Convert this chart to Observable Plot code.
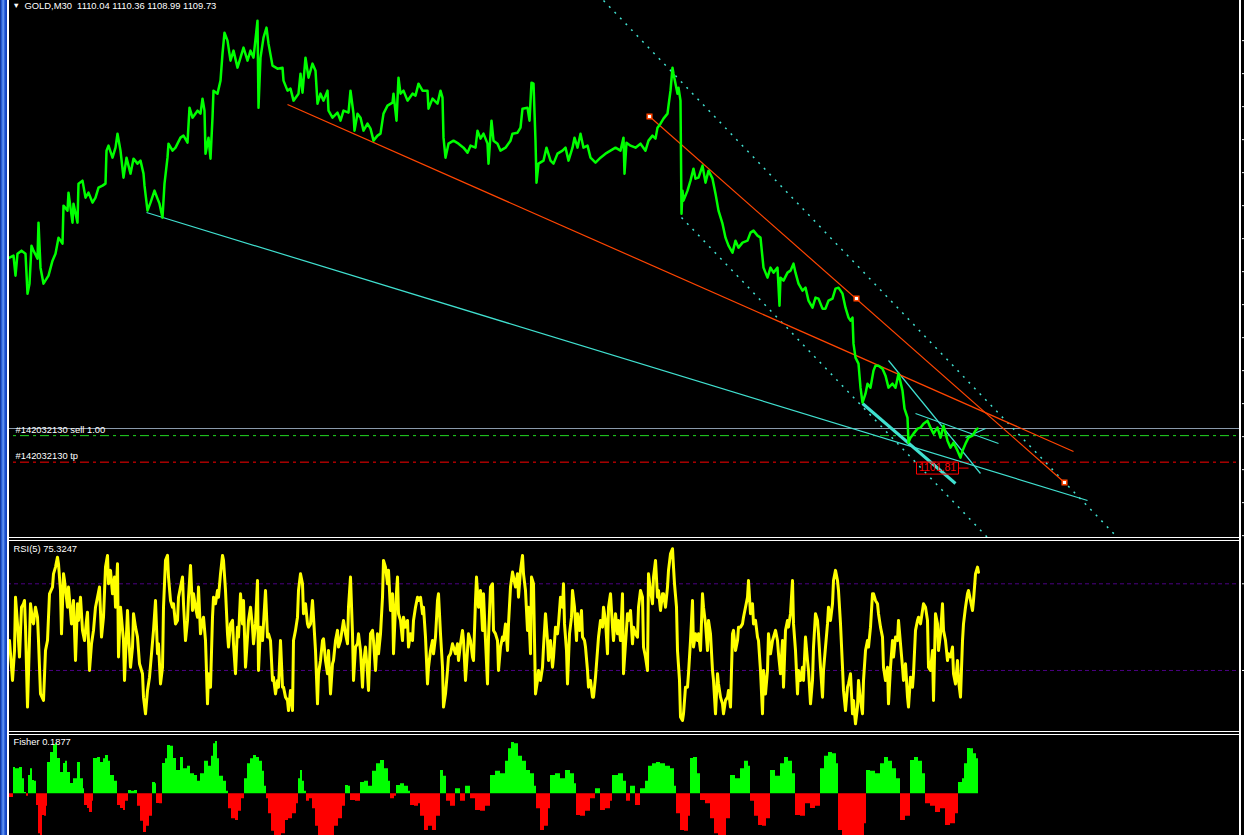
<!DOCTYPE html>
<html><head><meta charset="utf-8">
<script src="https://cdn.jsdelivr.net/npm/d3@7"></script>
<script src="https://cdn.jsdelivr.net/npm/@observablehq/plot@0.6"></script>
<style>
html,body{margin:0;padding:0;background:#000;}
#wrap{position:relative;width:1244px;height:835px;overflow:hidden;background:#000;}
.pane{position:absolute;left:0;}
.chrome{position:absolute;}
</style></head><body><div id="wrap"></div>
<script>
// ---------------- DATA ----------------
const titleText = "GOLD,M30  1110.04 1110.36 1108.99 1109.73";
const rsiLabel = "RSI(5) 75.3247";
const fisherLabel = "Fisher 0.1877";
const orderSellLabel = "#142032130 sell 1.00";
const orderTpLabel = "#142032130 tp";
const bidPrice = 1109.73;
const sellPrice = 1108.30;
const tpPrice = 1103.00;
const priceTicks = [1187.3,1180.7,1174.1,1167.5,1160.9,1154.3,1147.7,1141.1,1134.5,1127.9,1121.3,1114.7,1108.1,1101.5,1094.9,1088.3];
const rsiLevels = [70, 30];

// [bar, price]
const priceSeries = [[9,1143.9],[13,1144.3],[15,1140.3],[17,1144.7],[21,1145.3],[25,1144.7],[27,1136.7],[29,1138.7],[31,1146.3],[33,1145.3],[37,1143.7],[38,1150.9],[40,1141.9],[43,1138.7],[48,1140.3],[52,1143.3],[55,1144.7],[58,1147.9],[62,1146.7],[63,1154.3],[67,1153.3],[68,1156.9],[72,1150.9],[73,1154.7],[77,1150.9],[78,1158.7],[82,1159.3],[85,1155.9],[88,1156.9],[92,1154.9],[95,1155.9],[98,1157.9],[102,1158.3],[105,1158.7],[106,1165.3],[108,1166.3],[112,1163.9],[115,1165.9],[117,1168.7],[120,1165.3],[123,1159.9],[126,1163.9],[130,1160.7],[133,1163.7],[137,1162.7],[140,1163.3],[143,1160.7],[144,1158.3],[147,1153.3],[150,1154.9],[154,1157.3],[157,1155.7],[159,1154.7],[162,1151.9],[164,1158.7],[167,1163.9],[168,1166.7],[172,1165.3],[175,1165.9],[180,1167.9],[183,1168.3],[187,1166.9],[189,1173.9],[192,1171.9],[197,1173.3],[200,1172.7],[202,1175.7],[204,1173.3],[205,1164.7],[208,1167.9],[210,1163.7],[212,1171.9],[213,1177.3],[217,1176.7],[220,1179.3],[222,1184.7],[224,1188.9],[227,1187.3],[230,1183.3],[233,1185.3],[237,1181.9],[240,1183.9],[243,1185.9],[247,1183.3],[250,1185.3],[253,1183.9],[257,1191.3],[258,1173.9],[260,1183.9],[263,1187.9],[266,1189.9],[268,1186.7],[272,1182.3],[277,1181.7],[282,1181.9],[283,1179.3],[287,1177.3],[290,1177.7],[293,1175.3],[298,1176.7],[300,1180.7],[302,1176.9],[305,1183.9],[308,1179.9],[312,1182.7],[315,1181.3],[317,1174.7],[320,1176.7],[323,1175.3],[327,1177.3],[328,1173.3],[332,1171.9],[337,1172.9],[340,1171.3],[343,1173.3],[348,1172.9],[350,1177.3],[353,1172.7],[354,1169.3],[357,1172.7],[360,1171.9],[363,1169.3],[367,1170.7],[370,1169.7],[373,1167.3],[377,1168.3],[380,1168.7],[383,1172.7],[387,1174.3],[392,1174.9],[393,1176.7],[396,1171.3],[398,1179.9],[400,1176.7],[403,1177.3],[407,1175.3],[412,1176.7],[415,1176.3],[418,1178.7],[422,1177.3],[427,1177.3],[428,1173.7],[432,1175.7],[437,1174.7],[440,1177.3],[442,1175.9],[443,1167.9],[445,1163.9],[448,1166.7],[453,1167.3],[458,1166.7],[463,1165.9],[467,1164.9],[470,1166.3],[475,1165.9],[477,1169.3],[480,1167.7],[483,1168.7],[487,1166.7],[488,1162.7],[491,1171.3],[493,1167.3],[497,1166.7],[500,1165.3],[505,1165.9],[510,1167.3],[512,1168.7],[517,1168.9],[520,1169.9],[522,1173.7],[527,1173.9],[529,1171.3],[531,1178.9],[533,1178.7],[535,1167.3],[536,1158.9],[538,1162.7],[543,1163.3],[546,1165.9],[550,1163.3],[553,1162.7],[557,1164.7],[562,1165.3],[565,1165.9],[568,1163.3],[572,1165.9],[574,1167.9],[577,1165.9],[580,1168.7],[583,1165.9],[587,1166.3],[590,1163.9],[595,1162.9],[600,1163.9],[605,1164.7],[610,1165.3],[615,1165.9],[620,1165.3],[623,1167.9],[624,1160.7],[626,1166.9],[630,1166.3],[635,1165.9],[640,1166.7],[645,1165.3],[648,1167.3],[652,1168.3],[655,1167.7],[657,1169.9],[660,1170.7],[663,1171.7],[667,1172.7],[668,1174.3],[670,1177.3],[672,1181.9],[673,1180.7],[675,1178.7],[677,1176.7],[678,1177.9],[680,1175.3],[681,1152.7],[682,1157.3],[683,1155.3],[687,1157.3],[690,1159.3],[693,1161.7],[695,1159.7],[698,1159.9],[702,1162.3],[705,1158.9],[708,1161.3],[712,1159.7],[715,1156.7],[718,1153.3],[722,1150.7],[725,1147.9],[728,1146.3],[732,1144.9],[735,1147.3],[738,1145.9],[742,1146.9],[747,1147.3],[750,1148.9],[753,1149.3],[757,1148.3],[760,1147.9],[762,1143.9],[763,1141.9],[767,1139.9],[770,1141.9],[773,1140.9],[777,1141.9],[779,1134.3],[780,1139.9],[783,1139.3],[787,1140.9],[790,1141.3],[793,1142.7],[795,1140.9],[798,1138.7],[802,1137.3],[805,1137.9],[808,1135.3],[812,1133.9],[815,1135.9],[818,1135.7],[822,1133.7],[825,1133.7],[828,1135.3],[832,1135.7],[835,1137.7],[838,1137.9],[842,1136.7],[845,1133.9],[848,1131.9],[850,1131.3],[852,1131.9],[853,1126.7],[855,1123.9],[858,1122.7],[860,1117.9],[862,1114.9],[865,1116.7],[867,1118.7],[870,1117.9],[873,1121.3],[875,1122.3],[878,1122.3],[882,1121.7],[885,1120.3],[888,1117.9],[892,1118.7],[895,1117.9],[898,1120.7],[902,1117.3],[904,1113.7],[907,1111.9],[908,1106.9],[910,1107.9],[913,1108.7],[917,1109.7],[920,1109.9],[923,1110.7],[927,1111.3],[930,1109.9],[933,1108.7],[937,1109.9],[940,1107.9],[943,1110.3],[947,1107.3],[950,1105.9],[953,1106.9],[957,1105.3],[960,1103.9],[962,1105.3],[965,1106.7],[968,1107.9],[972,1108.3],[975,1109.3],[977,1109.73]];

// [bar, RSI]
const rsiSeries = [[9,43.8],[12,25.4],[14,39.2],[15,63.8],[17,51.5],[19,36.2],[21,59.2],[23,60.8],[24,62.3],[25,50.0],[27,13.1],[28,28.5],[30,60.8],[32,53.1],[33,51.5],[35,59.2],[37,54.6],[38,43.8],[40,19.2],[43,16.2],[45,39.2],[47,43.8],[49,65.4],[52,68.5],[53,74.6],[55,77.7],[57,82.3],[58,79.2],[60,66.9],[61,46.9],[63,74.6],[64,71.5],[67,59.2],[68,68.5],[71,51.5],[73,62.3],[75,34.6],[77,60.8],[78,53.1],[80,63.8],[82,48.5],[84,43.8],[86,53.1],[87,56.9],[89,30.0],[91,42.3],[93,48.5],[95,59.2],[97,63.8],[99,68.5],[101,45.4],[103,54.6],[105,77.7],[107,83.1],[108,70.0],[110,76.2],[112,65.4],[114,73.1],[115,59.2],[117,79.2],[118,36.2],[120,59.2],[123,43.8],[124,25.4],[127,57.7],[128,46.9],[130,31.5],[132,40.8],[133,56.2],[135,50.0],[137,45.4],[139,33.1],[142,28.5],[143,17.7],[145,10.0],[147,20.8],[149,26.9],[151,37.7],[153,48.5],[155,62.3],[157,37.7],[158,42.3],[160,23.8],[162,31.5],[163,59.2],[165,80.8],[167,83.1],[168,73.1],[170,62.3],[172,59.2],[173,60.8],[175,51.5],[177,53.1],[178,63.8],[180,68.5],[182,73.1],[183,60.8],[185,43.8],[187,53.1],[188,63.8],[190,78.5],[192,57.7],[193,65.4],[195,59.2],[197,54.6],[198,68.5],[200,46.9],[202,53.1],[203,54.6],[205,43.8],[207,14.6],[208,28.5],[210,22.3],[212,54.6],[213,63.8],[215,60.8],[217,66.9],[218,63.8],[220,74.6],[222,83.1],[223,80.8],[225,66.9],[227,46.9],[228,40.8],[230,51.5],[232,53.1],[233,42.3],[235,28.5],[237,50.0],[238,45.4],[240,65.4],[242,51.5],[243,62.3],[245,31.5],[247,45.4],[248,53.1],[250,59.2],[252,50.0],[253,42.3],[255,51.5],[257,71.5],[258,30.0],[260,50.0],[262,43.8],[263,51.5],[265,66.9],[267,45.4],[268,46.9],[270,43.8],[272,25.4],[273,26.9],[275,19.2],[277,25.4],[278,22.3],[280,43.8],[282,22.3],[283,22.3],[285,17.7],[287,16.2],[288,11.5],[290,20.8],[292,11.5],[293,43.8],[295,48.5],[297,54.6],[298,66.9],[300,74.6],[302,70.0],[303,56.2],[305,60.8],[307,51.5],[308,50.0],[310,51.5],[312,62.3],[313,54.6],[315,39.2],[317,14.6],[318,28.5],[320,34.6],[322,43.8],[323,44.6],[325,34.6],[327,28.5],[328,39.2],[330,19.2],[332,33.1],[333,34.6],[335,43.8],[337,48.5],[338,40.8],[340,43.8],[342,50.0],[343,53.1],[345,46.9],[347,42.3],[348,59.2],[350,73.1],[352,46.9],[353,25.4],[355,40.8],[357,42.3],[358,46.9],[360,39.2],[362,22.3],[363,33.1],[365,40.8],[367,28.5],[368,20.8],[370,46.9],[372,48.5],[373,43.8],[375,30.0],[377,46.9],[378,37.7],[380,46.9],[382,63.8],[383,80.8],[385,77.7],[387,70.0],[388,76.2],[390,57.7],[392,65.4],[393,37.7],[395,59.2],[397,73.1],[398,56.2],[400,53.1],[402,43.8],[403,54.6],[405,50.0],[407,53.1],[408,40.8],[410,46.9],[412,43.8],[413,53.1],[415,59.2],[417,63.8],[418,62.3],[420,63.8],[422,56.2],[423,59.2],[425,45.4],[427,23.8],[428,31.5],[430,39.2],[432,43.8],[433,37.7],[435,45.4],[437,62.3],[438,65.4],[440,46.9],[442,31.5],[443,13.1],[445,19.2],[447,30.0],[448,36.2],[450,37.7],[452,42.3],[453,40.8],[455,37.7],[457,42.3],[458,34.6],[460,42.3],[462,48.5],[463,43.8],[465,25.4],[467,39.2],[468,46.9],[470,43.8],[472,36.2],[473,34.6],[475,62.3],[476,73.1],[478,59.2],[480,66.9],[482,48.5],[483,65.4],[485,43.8],[487,23.8],[488,45.4],[490,68.5],[492,70.0],[493,48.5],[495,46.9],[497,43.8],[498,30.0],[500,40.8],[502,45.4],[503,43.8],[505,51.5],[507,39.2],[508,51.5],[510,68.5],[512,75.4],[513,73.1],[515,68.5],[517,74.6],[518,63.8],[520,76.2],[522,83.1],[523,74.6],[525,66.9],[527,48.5],[528,59.2],[530,37.7],[531,73.1],[533,70.0],[534,43.8],[535,19.2],[537,25.4],[538,30.0],[540,25.4],[542,31.5],[543,40.8],[545,56.2],[547,43.8],[548,34.6],[550,43.8],[552,31.5],[553,36.2],[555,50.0],[557,46.9],[558,51.5],[560,63.8],[562,59.2],[563,70.0],[564,51.5],[566,39.2],[567,23.8],[569,46.9],[571,54.6],[572,66.9],[574,59.2],[576,43.8],[577,56.2],[579,48.5],[581,57.7],[582,45.4],[584,43.8],[585,40.8],[587,30.0],[588,22.3],[590,25.4],[592,17.7],[593,17.7],[595,26.9],[597,39.2],[598,45.4],[600,53.1],[602,50.0],[603,59.2],[605,53.1],[607,37.7],[608,59.2],[610,65.4],[612,50.0],[613,43.8],[615,56.2],[617,46.9],[618,53.1],[620,43.8],[622,65.4],[623,28.5],[625,42.3],[627,56.2],[628,53.1],[630,57.7],[632,42.3],[633,50.0],[635,46.9],[637,45.4],[638,59.2],[640,66.9],[642,63.8],[643,40.8],[645,36.2],[647,30.0],[648,74.6],[650,66.9],[652,60.8],[653,73.1],[655,80.8],[657,63.8],[658,66.9],[660,57.7],[662,65.4],[663,65.4],[665,59.2],[667,68.5],[668,76.2],[670,83.8],[672,86.2],[673,77.7],[674,70.0],[676,59.2],[677,39.2],[679,25.4],[680,8.5],[682,6.9],[683,10.0],[685,22.3],[687,22.3],[688,28.5],[690,43.8],[692,62.3],[693,40.8],[695,46.9],[697,43.8],[698,46.9],[700,39.2],[702,65.4],[703,59.2],[705,51.5],[707,39.2],[708,53.1],[710,46.9],[712,30.0],[713,25.4],[715,10.0],[717,28.5],[718,23.8],[720,17.7],[722,14.6],[723,10.0],[725,16.2],[727,17.7],[728,20.8],[730,13.1],[732,46.9],[733,48.5],[735,39.2],[737,43.8],[738,50.0],[740,50.0],[742,51.5],[743,54.6],[745,59.2],[747,63.8],[748,71.5],[750,56.2],[752,60.8],[753,51.5],[755,53.1],[757,45.4],[758,43.8],[760,30.0],[762,10.0],[763,30.0],[765,19.2],[767,30.0],[768,46.9],[770,37.7],[772,43.8],[773,45.4],[775,48.5],[777,43.8],[778,37.7],[780,28.5],[782,43.8],[783,22.3],[785,48.5],[787,53.1],[788,50.0],[790,56.2],[792,71.5],[793,51.5],[795,39.2],[797,19.2],[798,30.0],[800,25.4],[802,31.5],[803,25.4],[805,45.4],[807,34.6],[808,30.0],[810,14.6],[812,25.4],[813,40.8],[815,56.2],[817,53.1],[818,46.9],[820,31.5],[822,17.7],[823,30.0],[825,40.8],[827,51.5],[828,59.2],[830,53.1],[832,60.8],[833,71.5],[835,76.2],[837,71.5],[838,66.9],[840,51.5],[842,31.5],[843,20.8],[845,11.5],[847,22.3],[848,23.8],[850,28.5],[852,10.0],[853,16.2],[855,5.4],[857,13.1],[858,25.4],[860,16.2],[862,10.0],[863,25.4],[865,39.2],[867,43.8],[868,40.8],[870,50.0],[872,65.4],[873,65.4],[875,62.3],[877,60.8],[878,56.2],[880,50.0],[882,45.4],[883,31.5],[885,25.4],[887,31.5],[888,14.6],[890,31.5],[892,43.8],[893,36.2],[895,45.4],[897,43.8],[898,53.1],[900,42.3],[902,31.5],[903,25.4],[905,33.1],[907,17.7],[908,13.1],[910,26.9],[912,22.3],[913,28.5],[915,48.5],[917,53.1],[918,54.6],[920,51.5],[922,57.7],[923,60.8],[925,59.2],[927,53.1],[928,31.5],[930,30.0],[932,39.2],[933,16.2],[935,56.2],[937,51.5],[938,39.2],[940,46.9],[942,60.8],[943,48.5],[945,43.8],[947,34.6],[948,37.7],[950,36.2],[952,40.8],[953,28.5],[955,23.8],[957,34.6],[958,25.4],[960,17.7],[962,43.8],[963,51.5],[965,59.2],[967,65.4],[968,66.9],[970,62.3],[972,57.7],[973,62.3],[975,74.6],[977,77.7],[978,75.3]];

// [bar, Fisher]
const fisherSeries = [[9,-0.15],[12,-0.15],[13,1.05],[15,1.0],[19,1.05],[21,1.05],[22,0.6],[24,0.05],[26,-0.1],[28,0.73],[30,1.0],[32,0.53],[34,0.5],[36,-0.47],[38,-1.6],[40,-2.2],[42,-0.87],[44,-0.9],[46,-0.5],[47,1.25],[50,1.65],[53,1.93],[55,2.0],[57,1.41],[60,0.85],[63,1.21],[65,1.3],[67,0.85],[70,0.41],[73,0.6],[77,1.25],[80,0.6],[83,0.2],[84,-0.47],[87,-0.59],[89,-0.75],[92,-0.3],[93,1.41],[97,1.45],[100,1.25],[103,1.4],[105,1.53],[108,1.3],[110,0.73],[114,0.5],[117,-0.47],[120,-0.59],[123,-0.67],[125,-0.3],[128,0.13],[131,0.1],[134,0.13],[137,-0.5],[140,-1.1],[143,-1.55],[146,-1.3],[149,-0.9],[152,0.45],[155,0.4],[156,-0.39],[159,-0.4],[162,1.21],[165,1.4],[167,1.93],[170,1.9],[173,1.41],[176,0.93],[180,1.45],[183,1.0],[187,1.1],[190,0.8],[194,0.73],[197,0.5],[200,0.8],[204,1.3],[208,1.1],[211,1.5],[213,2.0],[215,2.09],[217,1.4],[219,0.7],[223,0.5],[226,0.1],[228,-0.6],[231,-1.0],[235,-1.07],[238,-0.7],[241,-0.2],[244,0.6],[247,1.2],[250,1.4],[253,1.53],[256,1.45],[259,1.3],[262,0.9],[264,0.3],[266,-0.2],[268,-0.8],[271,-1.5],[274,-2.2],[278,-2.2],[281,-1.6],[285,-1.07],[288,-1.0],[292,-0.8],[296,-0.4],[298,0.6],[300,0.93],[302,0.5],[304,0.1],[306,-0.3],[309,-0.2],[312,-0.6],[315,-1.3],[318,-2.2],[322,-2.2],[326,-1.9],[330,-1.7],[334,-1.3],[338,-1.0],[342,-0.5],[345,0.33],[348,0.3],[350,-0.27],[355,-0.3],[360,0.45],[364,0.5],[368,0.3],[372,0.9],[376,1.2],[380,1.33],[384,1.0],[388,0.5],[390,-0.2],[394,-0.1],[396,0.33],[400,0.4],[404,0.3],[408,0.1],[410,-0.47],[414,-0.5],[418,-0.4],[420,-0.9],[424,-1.47],[428,-1.3],[432,-1.47],[436,-0.9],[440,0.93],[443,0.7],[446,-0.3],[450,-0.5],[455,0.2],[460,-0.3],[465,0.3],[470,-0.2],[475,-0.67],[480,-0.7],[485,-0.5],[490,0.73],[495,0.9],[500,0.8],[505,1.3],[508,1.8],[511,2.05],[514,2.0],[518,1.5],[522,1.3],[526,0.93],[530,0.8],[534,0.3],[536,-0.6],[540,-1.47],[544,-1.3],[548,-0.6],[550,0.73],[555,0.8],[560,0.6],[565,0.93],[570,0.8],[574,0.4],[576,-0.87],[580,-0.9],[585,-0.7],[590,-0.2],[595,0.2],[600,-0.67],[605,-0.6],[610,-0.3],[612,0.73],[618,0.8],[623,0.5],[626,-0.3],[630,0.3],[635,-0.47],[640,0.2],[645,0.5],[648,1.1],[652,1.2],[656,1.25],[660,1.2],[665,1.1],[670,1.0],[674,0.3],[676,-0.8],[680,-1.47],[684,-1.5],[688,-0.9],[690,1.41],[693,1.45],[697,0.8],[700,-0.27],[705,-0.4],[710,-1.0],[714,-1.6],[718,-2.2],[722,-1.8],[726,-1.0],[730,0.73],[735,0.6],[740,1.0],[744,1.3],[748,1.1],[750,-0.3],[754,-0.9],[758,-1.27],[762,-1.3],[766,-1.0],[770,0.93],[775,0.7],[780,1.2],[784,1.45],[788,1.3],[792,0.8],[795,-0.87],[800,-0.9],[805,-0.4],[810,-0.59],[815,-0.5],[820,1.0],[824,1.5],[828,1.65],[832,1.6],[836,1.2],[838,-1.47],[842,-1.9],[846,-2.2],[850,-2.2],[855,-2.2],[860,-1.9],[864,-1.2],[866,0.93],[870,0.9],[875,0.8],[880,1.2],[884,1.45],[888,1.3],[892,1.0],[896,0.6],[900,-1.07],[905,-0.9],[910,1.33],[914,1.45],[918,1.3],[922,0.8],[925,-0.4],[930,-0.5],[935,-0.75],[940,-0.6],[945,-1.27],[950,-1.2],[955,-0.8],[958,0.45],[962,0.6],[964,1.2],[967,1.81],[970,1.8],[973,1.6],[976,1.4],[978,1.3]];

// trendline end points: [bar1, price1, bar2, price2]
const cyanSolidLines = [[146,1152.93,1087,1095.33],[888,1123.33,980,1100.73],[915,1112.73,998,1106.73],[965,1107.93,985,1109.73]];
const cyanThickLines = [[862,1114.73,955,1098.73]];
const cyanDottedLines = [[603,1195.33,1117,1087.93],[681,1151.93,987,1087.93]];
const orangeLines = [[287,1174.53,1073,1105.13],[649,1172.13,1064,1098.93]];
const orangeMarkers = [[649,1172.13],[856,1135.73],[1064,1098.93]];
const priceLabel = [[968,1101.81,"1101.81"]];

// ---------------- DRAW ----------------
const FONT = "'Liberation Sans', Arial, sans-serif";
const wrap = document.getElementById("wrap");
const xDom = [0, 1241];
const baseStyle = {background:"#000", color:"#fff", fontFamily:FONT, fontSize:"9.4px", overflow:"hidden"};
const seg = (arr) => arr.map(d => ({x1:d[0], y1:d[1], x2:d[2], y2:d[3]}));

// price-label frame: box left of the anchor with a short leader line to it
const labelBox = {draw(ctx) { ctx.moveTo(-52, -6); ctx.lineTo(-10, -6); ctx.lineTo(-10, 6); ctx.lineTo(-52, 6); ctx.closePath(); ctx.moveTo(-10, 0); ctx.lineTo(0, 0); }};

const main = Plot.plot({
  width:1244, height:537, marginLeft:0, marginRight:3, marginTop:0, marginBottom:0,
  style: baseStyle,
  x:{domain:xDom, axis:null},
  y:{domain:[1087.93, 1195.33], axis:"right", ticks:priceTicks, tickSize:3, tickFormat:()=>"", label:null},
  marks:[
    Plot.ruleY([bidPrice], {stroke:"#8a9aab", strokeWidth:1}),
    Plot.ruleY([sellPrice], {stroke:"#22dd22", strokeWidth:1, strokeDasharray:"9,4,3,4"}),
    Plot.ruleY([tpPrice], {stroke:"#ff0000", strokeWidth:1, strokeDasharray:"9,4,3,4"}),
    Plot.link(seg(cyanDottedLines), {x1:"x1", y1:"y1", x2:"x2", y2:"y2", stroke:"#40e0d0", strokeWidth:1.5, strokeDasharray:"2,6", clip:true}),
    Plot.link(seg(cyanSolidLines), {x1:"x1", y1:"y1", x2:"x2", y2:"y2", stroke:"#40e0d0", strokeWidth:1.2, clip:true}),
    Plot.link(seg(cyanThickLines), {x1:"x1", y1:"y1", x2:"x2", y2:"y2", stroke:"#40e0d0", strokeWidth:3, clip:true}),
    Plot.link(seg(orangeLines), {x1:"x1", y1:"y1", x2:"x2", y2:"y2", stroke:"#ff4500", strokeWidth:1.2, clip:true}),
    Plot.line(priceSeries, {x:d=>d[0], y:d=>d[1], stroke:"#00ff00", strokeWidth:2.5, clip:true}),
    Plot.dot(orangeMarkers, {x:d=>d[0], y:d=>d[1], symbol:"square", r:2.6, fill:"#fff", stroke:"#ff4500", strokeWidth:1.5}),
    Plot.dot(priceLabel, {x:d=>d[0], y:d=>d[1], symbol:labelBox, fill:"none", stroke:"#ff0000", strokeWidth:1}),
    Plot.text(priceLabel, {x:d=>d[0], y:d=>d[1], text:d=>d[2], textAnchor:"middle", dx:-31, fill:"#ff0000", fontSize:10.5, fontFamily:FONT}),
    Plot.text([orderSellLabel], {frameAnchor:"left", y:()=>sellPrice, text:d=>d, dx:15, dy:-6, textAnchor:"start", fill:"#fff"}),
    Plot.text([orderTpLabel], {frameAnchor:"left", y:()=>tpPrice, text:d=>d, dx:15, dy:-6, textAnchor:"start", fill:"#fff"}),
    Plot.text(["\u25BC"], {frameAnchor:"top-left", text:d=>d, dx:12, dy:2, fontSize:7.5, fill:"#fff", lineAnchor:"top"}),
    Plot.text([titleText], {frameAnchor:"top-left", text:d=>d, dx:24, dy:1.5, fill:"#fff", lineAnchor:"top"})
  ]
});
main.classList.add("pane"); main.style.top = "0px";
wrap.appendChild(main);

const rsi = Plot.plot({
  width:1244, height:190, marginLeft:0, marginRight:3, marginTop:0, marginBottom:0,
  style: baseStyle,
  x:{domain:xDom, axis:null},
  y:{domain:[1.84, 89.52], axis:"right", ticks:rsiLevels, tickSize:3, tickFormat:()=>"", label:null},
  marks:[
    Plot.ruleY(rsiLevels, {stroke:"#4b0082", strokeWidth:1, strokeDasharray:"4,3"}),
    Plot.line(rsiSeries, {x:d=>d[0], y:d=>d[1], stroke:"#ffff00", strokeWidth:3, clip:true}),
    Plot.text([rsiLabel], {frameAnchor:"top-left", text:d=>d, dx:13, dy:4, fill:"#fff", lineAnchor:"top"})
  ]
});
rsi.classList.add("pane"); rsi.style.top = "541px";
wrap.appendChild(rsi);

const fisher = Plot.plot({
  width:1244, height:100, marginLeft:0, marginRight:3, marginTop:0, marginBottom:0,
  style: baseStyle,
  x:{domain:xDom, axis:null},
  y:{domain:[-1.67, 2.33], axis:null},
  marks:[
    Plot.areaY(fisherSeries, {x:d=>d[0], y:d=>Math.max(0, d[1]), fill:"#00ff00", curve:"step-after", clip:true}),
    Plot.areaY(fisherSeries, {x:d=>d[0], y:d=>Math.min(0, d[1]), fill:"#ff0000", curve:"step-after", clip:true}),
    Plot.text([fisherLabel], {frameAnchor:"top-left", text:d=>d, dx:13, dy:3, fill:"#fff", lineAnchor:"top"})
  ]
});
fisher.classList.add("pane"); fisher.style.top = "735px";
wrap.appendChild(fisher);

// window chrome
function chrome(css) { const d = document.createElement("div"); d.className = "chrome"; Object.assign(d.style, css); wrap.appendChild(d); }
chrome({left:"0px", top:"0px", width:"7px", height:"835px", background:"linear-gradient(to right,#0a2a8a 0,#2a64e0 25%,#6b9cf0 45%,#1f55d8 70%,#0c3bb0 100%)"});
chrome({left:"7px", top:"0px", width:"2px", height:"835px", background:"#fff"});
chrome({left:"1239px", top:"0px", width:"2px", height:"835px", background:"#fff"});
chrome({left:"9px", top:"537px", width:"1230px", height:"1px", background:"#fff"});
chrome({left:"9px", top:"540px", width:"1230px", height:"1px", background:"#fff"});
chrome({left:"9px", top:"731px", width:"1230px", height:"1px", background:"#fff"});
chrome({left:"9px", top:"734px", width:"1230px", height:"1px", background:"#fff"});
</script></body></html>
